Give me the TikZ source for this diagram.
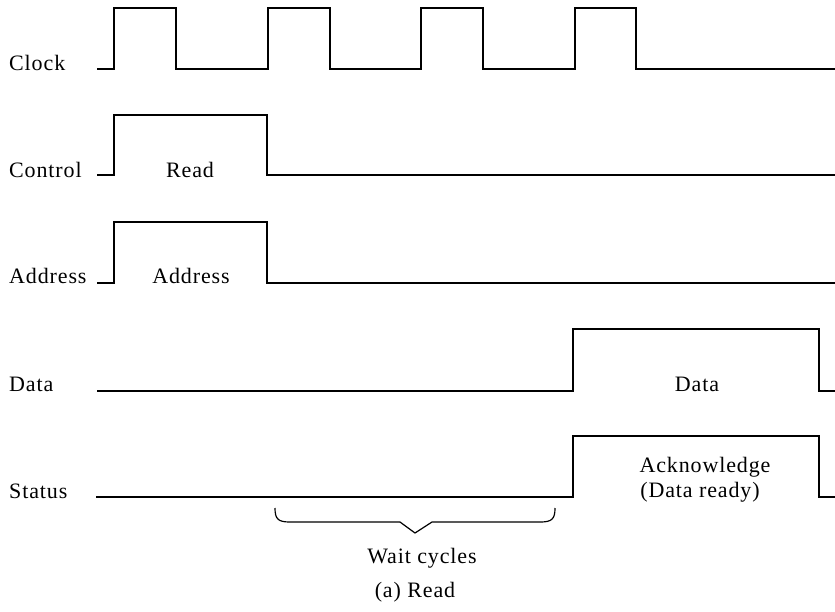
\documentclass[tikz,border=0pt]{standalone}
\usepackage{fontspec}
\setmainfont[LetterSpace=4]{Liberation Serif}
\begin{document}
\begin{tikzpicture}[x=1pt,y=-1pt,
  wave/.style={line width=1.4pt,line join=miter},
  lbl/.style={anchor=base west,inner sep=0pt,font=\fontsize{22}{25}\selectfont},
  txt/.style={anchor=base,inner sep=0pt,font=\fontsize{22}{25}\selectfont,align=center}]
\useasboundingbox (0,0) rectangle (835,611);
% labels
\node[lbl] (lclock) at (9,70) {Clock};
\node[lbl] (lcontrol) at (9,177) {Control};
\node[lbl] (laddress) at (9,283) {Address};
\node[lbl] (ldata) at (9,391) {Data};
\node[lbl] (lstatus) at (9,498) {Status};
% clock
\draw[wave] (97,69) -- (114,69) -- (114,8) -- (176,8) -- (176,69) -- (268,69) -- (268,8) -- (330,8) -- (330,69)
  -- (421,69) -- (421,8) -- (483,8) -- (483,69) -- (575,69) -- (575,8) -- (636,8) -- (636,69) -- (835,69);
% control
\draw[wave] (97,175) -- (114,175) -- (114,115) -- (267,115) -- (267,175) -- (835,175);
\node[txt] (tread) at (190,177) {Read};
% address
\draw[wave] (97,283) -- (114,283) -- (114,222) -- (267,222) -- (267,283) -- (835,283);
\node[txt] (taddr) at (191,283) {Address};
% data
\draw[wave] (97,391) -- (573,391) -- (573,329) -- (819,329) -- (819,391) -- (835,391);
\node[txt] (tdata) at (697,391) {Data};
% status
\draw[wave] (96,497) -- (573,497) -- (573,436) -- (819,436) -- (819,497) -- (835,497);
\node[txt] (tack) at (705,472) {Acknowledge};
\node[txt] (tready) at (700,497) {(Data ready)};
% brace
\draw[line width=1.2pt] (275,508) .. controls (275,519) and (278,522) .. (290,522) -- (400,522) -- (415,533)
  -- (432,522) -- (540,522) .. controls (552,522) and (555,519) .. (555,508);
\node[txt] (twait) at (422,563) {Wait cycles};
\node[txt] (tcap) at (415,597) {(a) Read};
\end{tikzpicture}
\end{document}
